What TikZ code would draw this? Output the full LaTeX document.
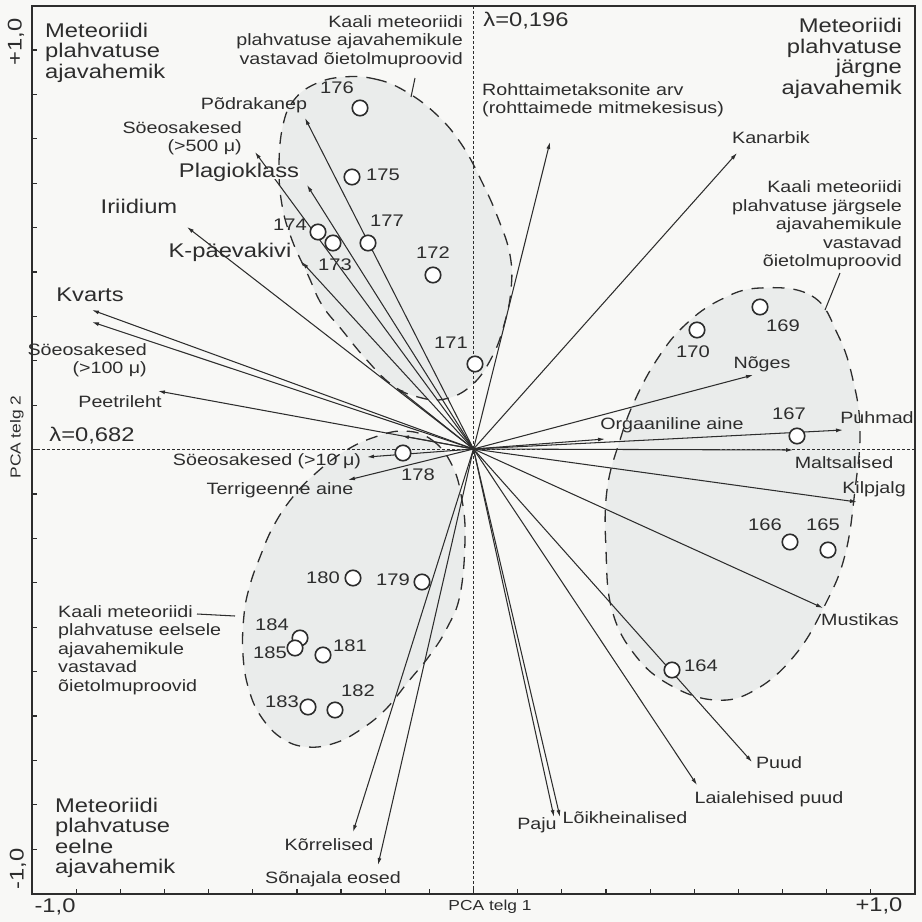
\documentclass[tikz,border=0pt]{standalone}
\usepackage{fontspec}
\setmainfont[FakeStretch=1.2]{Liberation Sans}
\usetikzlibrary{arrows.meta}
\definecolor{ink}{RGB}{45,45,45}
\definecolor{paper}{RGB}{248,248,246}
\definecolor{blob}{RGB}{234,236,235}
\begin{document}
\begin{tikzpicture}[x=1pt,y=-1pt,
  big/.style={font=\fontsize{19.8}{20.5}\selectfont, text=ink, inner sep=0pt},
  sml/.style={font=\fontsize{16.4}{18.4}\selectfont, text=ink, inner sep=0pt},
  num/.style={font=\fontsize{16.8}{18}\selectfont, text=ink, inner sep=0pt},
  axl/.style={font=\fontsize{14.5}{16}\selectfont, text=ink, inner sep=0pt},
  one/.style={text height=0.72em, text depth=0pt},
  vec/.style={draw=ink, line width=1.05pt, -{Latex[length=7pt,width=4pt]}},
  lead/.style={draw=ink, line width=1.05pt},
  dots/.style={draw=ink, line width=1.4pt, dash pattern=on 2.5pt off 2.5pt},
  group/.style={draw=ink, line width=1.3pt, dash pattern=on 12pt off 9pt},
  sample/.style={circle, draw=ink, line width=1.6pt, fill=white, minimum size=15.5pt, inner sep=0pt}]
\useasboundingbox (0,0) rectangle (922,922);
\fill[paper] (0,0) rectangle (922,922);
% group areas
\fill[blob] plot[smooth cycle, tension=0.7] coordinates {(343,77) (375,79) (405,91) (437,115) (462,145) (482,182) (498,218) (510,255) (511,290) (504,325) (492,357) (472,385) (445,399) (418,397) (392,385) (365,358) (342,330) (322,305) (308,275) (292,240) (282,205) (279,165) (283,125) (294,100) (315,84)};
\fill[blob] plot[smooth cycle, tension=0.7] coordinates {(760,288) (812,296) (838,335) (853,380) (860,430) (855,490) (845,555) (825,605) (795,655) (755,690) (715,700) (670,685) (635,655) (612,610) (606,550) (607,490) (620,440) (635,400) (658,358) (685,325) (720,300)};
\fill[blob] plot[smooth cycle, tension=0.7] coordinates {(405,431) (432,440) (452,465) (462,500) (465,540) (460,595) (447,628) (430,655) (408,682) (385,710) (360,730) (335,743) (308,747) (283,739) (262,718) (249,690) (243,655) (244,615) (250,585) (260,557) (273,527) (292,498) (316,473) (345,451) (375,437)};
% axes through origin
\coordinate (vt) at (473.5,6); \coordinate (vb) at (473.5,894);
\coordinate (hl) at (32,449.5); \coordinate (hr) at (915,449.5);
\draw[dots] (vt) -- (vb);
\draw[dots] (hl) -- (hr);
% group outlines
\draw[group] plot[smooth cycle, tension=0.7] coordinates {(343,77) (375,79) (405,91) (437,115) (462,145) (482,182) (498,218) (510,255) (511,290) (504,325) (492,357) (472,385) (445,399) (418,397) (392,385) (365,358) (342,330) (322,305) (308,275) (292,240) (282,205) (279,165) (283,125) (294,100) (315,84)};
\draw[group] plot[smooth cycle, tension=0.7] coordinates {(760,288) (812,296) (838,335) (853,380) (860,430) (855,490) (845,555) (825,605) (795,655) (755,690) (715,700) (670,685) (635,655) (612,610) (606,550) (607,490) (620,440) (635,400) (658,358) (685,325) (720,300)};
\draw[group] plot[smooth cycle, tension=0.7] coordinates {(405,431) (432,440) (452,465) (462,500) (465,540) (460,595) (447,628) (430,655) (408,682) (385,710) (360,730) (335,743) (308,747) (283,739) (262,718) (249,690) (243,655) (244,615) (250,585) (260,557) (273,527) (292,498) (316,473) (345,451) (375,437)};
% vectors
\coordinate (O) at (473.5,449);
\coordinate (pod) at (305,118);
\coordinate (s500) at (255,152);
\coordinate (plag) at (307,185);
\coordinate (irid) at (187,227);
\coordinate (kpae) at (302,262);
\coordinate (kva) at (92,310);
\coordinate (s100) at (92,322);
\coordinate (peet) at (158,391);
\coordinate (s10) at (367,457);
\coordinate (terr) at (348,480);
\coordinate (roht) at (550,142);
\coordinate (kan) at (737,153);
\coordinate (nog) at (753,375);
\coordinate (puhm) at (843,430);
\coordinate (org) at (605,439);
\coordinate (malt) at (793,450);
\coordinate (kilp) at (857,502);
\coordinate (must) at (823,608);
\coordinate (puud) at (752,762);
\coordinate (laia) at (697,785);
\coordinate (loik) at (560,817);
\coordinate (paju) at (554,817);
\coordinate (korr) at (353,832);
\coordinate (sona) at (378,865);
\coordinate (shA) at (397,388);
\coordinate (shB) at (402,436);
\foreach \t in {pod,s500,plag,irid,kpae,kva,s100,peet,s10,terr,roht,kan,nog,puhm,org,malt,kilp,must,puud,laia,loik,paju,korr,sona,shA,shB}
  \draw[vec] (O) -- (\t);
% leader lines
\coordinate (la1) at (415,78); \coordinate (la2) at (411,97);
\draw[lead] (la1) -- (la2);
\coordinate (lb1) at (840,273); \coordinate (lb2) at (825,310);
\draw[lead] (lb1) -- (lb2);
\coordinate (lc1) at (197,614); \coordinate (lc2) at (235,616);
\draw[lead] (lc1) -- (lc2);
% samples
\node[sample] (c176) at (360,108) {};
\node[sample] (c175) at (352,177) {};
\node[sample] (c174) at (318,232) {};
\node[sample] (c173) at (333,243) {};
\node[sample] (c177) at (368,243) {};
\node[sample] (c172) at (433,275) {};
\node[sample] (c171) at (475,364) {};
\node[sample] (c178) at (403,453) {};
\node[sample] (c180) at (353,578) {};
\node[sample] (c179) at (422,582) {};
\node[sample] (c184) at (300,638) {};
\node[sample] (c185) at (295,648) {};
\node[sample] (c181) at (323,655) {};
\node[sample] (c183) at (308,707) {};
\node[sample] (c182) at (335,710) {};
\node[sample] (c170) at (697,330) {};
\node[sample] (c169) at (760,307) {};
\node[sample] (c167) at (797,436) {};
\node[sample] (c166) at (790,542) {};
\node[sample] (c165) at (828,550) {};
\node[sample] (c164) at (672,670) {};
\node[num,one] (n176) at (337,90) {176};
\node[num,one] (n175) at (383,177) {175};
\node[num,one] (n174) at (290,227) {174};
\node[num,one] (n173) at (335,267) {173};
\node[num,one] (n177) at (387,223) {177};
\node[num,one] (n172) at (433,255) {172};
\node[num,one] (n171) at (451,345) {171};
\node[num,one] (n178) at (418,477) {178};
\node[num,one] (n180) at (323,580) {180};
\node[num,one] (n179) at (393,582) {179};
\node[num,one] (n184) at (272,627) {184};
\node[num,one] (n185) at (270,655) {185};
\node[num,one] (n181) at (350,648) {181};
\node[num,one] (n183) at (282,704) {183};
\node[num,one] (n182) at (358,693) {182};
\node[num,one] (n170) at (693,354) {170};
\node[num,one] (n169) at (783,328) {169};
\node[num,one] (n167) at (789,416) {167};
\node[num,one] (n166) at (765,527) {166};
\node[num,one] (n165) at (823,527) {165};
\node[num,one] (n164) at (701,668) {164};
% variable labels
\node[sml,one] (tpod) at (254,106) {Põdrakanep};
\node[sml,anchor=east,align=right] (ts500) at (242,138) {Söeosakesed\\(>500 μ)};
\node[big,one,fill=paper,inner sep=1pt] (tplag) at (239,174) {Plagioklass};
\node[big,one] (tirid) at (139,210) {Iriidium};
\node[big,one] (tkpae) at (230,254) {K-päevakivi};
\node[big,one] (tkva) at (90,298) {Kvarts};
\node[sml,anchor=east,align=right] (ts100) at (147,360) {Söeosakesed\\(>100 μ)};
\node[sml,one] (tpeet) at (120,404) {Peetrileht};
\node[sml,one] (ts10) at (267,462) {Söeosakesed (>10 μ)};
\node[sml,one] (tterr) at (280,491) {Terrigeenne aine};
\node[sml,anchor=west,align=left] (troht) at (482,100) {Rohttaimetaksonite arv\\(rohttaimede mitmekesisus)};
\node[sml,one] (tkan) at (771,140) {Kanarbik};
\node[sml,one] (tnog) at (762,365) {Nõges};
\node[sml,one] (torg) at (672,426) {Orgaaniline aine};
\node[sml,one] (tpuhm) at (877,420) {Puhmad};
\node[sml,one] (tmalt) at (844,465) {Maltsalised};
\node[sml,one] (tkilp) at (874,490) {Kilpjalg};
\node[sml,one] (tmust) at (860,622) {Mustikas};
\node[sml,one] (tpuud) at (779,765) {Puud};
\node[sml,one] (tlaia) at (769,800) {Laialehised puud};
\node[sml,one] (tloik) at (625,820) {Lõikheinalised};
\node[sml,one] (tpaju) at (537,826) {Paju};
\node[sml,one] (tkorr) at (329,847) {Kõrrelised};
\node[sml,one] (tsona) at (333,880) {Sõnajala eosed};
% group labels
\node[sml,anchor=east,align=right] (g1) at (463,41.5) {Kaali meteoriidi\\plahvatuse ajavahemikule\\vastavad õietolmuproovid};
\node[sml,anchor=east,align=right] (g2) at (902,225.5) {Kaali meteoriidi\\plahvatuse järgsele\\ajavahemikule\\vastavad\\õietolmuproovid};
\node[sml,anchor=west,align=left] (g3) at (58,650) {Kaali meteoriidi\\plahvatuse eelsele\\ajavahemikule\\vastavad\\õietolmuproovid};
% period labels
\node[big,anchor=west,align=left] (p1) at (45,52.5) {Meteoriidi\\plahvatuse\\ajavahemik};
\node[big,anchor=east,align=right] (p2) at (902,58.5) {Meteoriidi\\plahvatuse\\järgne\\ajavahemik};
\node[big,anchor=west,align=left] (p3) at (55,838) {Meteoriidi\\plahvatuse\\eelne\\ajavahemik};
\node[big,one] (lam1) at (526,23) {λ=0,196};
\node[big,one] (lam2) at (92,438) {λ=0,682};
% frame and ticks
\draw[ink, line width=1.5pt] (32,6) rectangle (915,894);
\foreach \k in {-9,...,9} {
  \draw[ink, line width=1.2pt] (32,{449.5+44.4*\k}) -- ++(5,0);
  \draw[ink, line width=1.2pt] ({473.5+44.15*\k},894) -- ++(0,-5);
}
\node[big,one,rotate=90] (ya) at (18,42) {+1,0};
\node[big,one,rotate=90] (yb) at (20,869) {-1,0};
\node[axl,one,rotate=90] (yl) at (17,437) {PCA telg 2};
\node[big,one] (xa) at (55,909) {-1,0};
\node[axl,one] (xl) at (490,907) {PCA telg 1};
\node[big,one] (xb) at (879,908) {+1,0};
\end{tikzpicture}
\end{document}
